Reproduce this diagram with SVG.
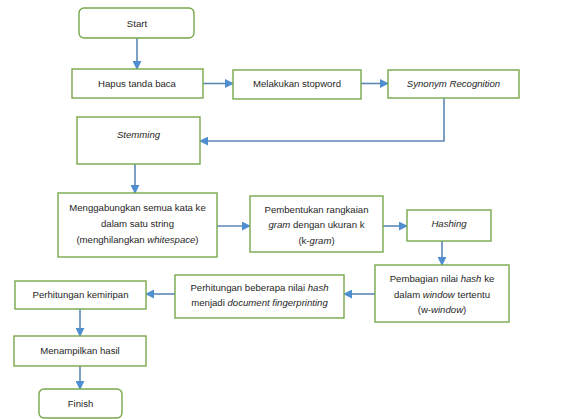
<svg xmlns="http://www.w3.org/2000/svg" width="566" height="419" viewBox="0 0 566 419">
<defs>
<marker id="ah" viewBox="0 0 10 10" refX="9" refY="5" markerWidth="5" markerHeight="5" orient="auto" markerUnits="userSpaceOnUse">
<path d="M0,0 L10,5 L0,10 Z" fill="#4f8fd0"/>
</marker>
<marker id="ah2" viewBox="0 0 10 10" refX="9" refY="5" markerWidth="9" markerHeight="9" orient="auto" markerUnits="userSpaceOnUse">
<path d="M0,0 L10,5 L0,10 Z" fill="#4f8fd0"/>
</marker>
</defs>
<style>
.box{fill:#ffffff;stroke:#77a84b;stroke-width:1.4}
.t{font-family:"Liberation Sans",Arial,sans-serif;font-size:9.6px;fill:#262626;text-anchor:middle}
.i{font-style:italic}
.c{fill:none;stroke:#5d88b6;stroke-width:1.6}
</style>
<rect width="566" height="419" fill="#ffffff"/>
<g id="connectors">
<path class="c" d="M137,38 V69" marker-end="url(#ah2)"/>
<path class="c" d="M203,83.5 H233" marker-end="url(#ah2)"/>
<path class="c" d="M361,83.5 H388" marker-end="url(#ah2)"/>
<path class="c" d="M444,98 V141 H200" marker-end="url(#ah2)"/>
<path class="c" d="M135,164 V193" marker-end="url(#ah2)"/>
<path class="c" d="M217,226 H250" marker-end="url(#ah2)"/>
<path class="c" d="M383,226 H407" marker-end="url(#ah2)"/>
<path class="c" d="M442,241 V265" marker-end="url(#ah2)"/>
<path class="c" d="M375,294 H344" marker-end="url(#ah2)"/>
<path class="c" d="M175,294 H146" marker-end="url(#ah2)"/>
<path class="c" d="M80,309 V336" marker-end="url(#ah2)"/>
<path class="c" d="M80,366 V389" marker-end="url(#ah2)"/>
</g>
<g id="start"><rect class="box" x="79" y="8" width="115" height="30" rx="5"/><text class="t" x="137" y="26.5">Start</text></g>
<g id="hapus"><rect class="box" x="72" y="69" width="131" height="29"/><text class="t" x="137" y="87">Hapus tanda baca</text></g>
<g id="stopword"><rect class="box" x="233" y="70" width="128" height="29"/><text class="t" x="297" y="87">Melakukan stopword</text></g>
<g id="synonym"><rect class="box" x="388" y="70" width="131" height="28"/><text class="t i" x="453.5" y="87">Synonym Recognition</text></g>
<g id="stemming"><rect class="box" x="77" y="117" width="123" height="47"/><text class="t i" x="138.5" y="138">Stemming</text></g>
<g id="gabung"><rect class="box" x="58" y="193" width="159" height="64"/>
<text class="t" x="137.5" y="211">Menggabungkan semua kata ke</text>
<text class="t" x="137.5" y="226.5">dalam satu string</text>
<text class="t" x="137.5" y="243">(menghilangkan <tspan class="i">whitespace</tspan>)</text></g>
<g id="kgram"><rect class="box" x="250" y="196" width="133" height="56"/>
<text class="t" x="316.5" y="213">Pembentukan rangkaian</text>
<text class="t" x="316.5" y="228"><tspan class="i">gram</tspan> dengan ukuran k</text>
<text class="t" x="316.5" y="243.5">(k-<tspan class="i">gram</tspan>)</text></g>
<g id="hashing"><rect class="box" x="407" y="210" width="84" height="31"/><text class="t i" x="449" y="226.5">Hashing</text></g>
<g id="window"><rect class="box" x="375" y="265" width="134" height="57"/>
<text class="t" x="442" y="282"><tspan>Pembagian nilai </tspan><tspan class="i">hash</tspan> ke</text>
<text class="t" x="442" y="297.5">dalam <tspan class="i">window</tspan> tertentu</text>
<text class="t" x="442" y="313">(w-<tspan class="i">window</tspan>)</text></g>
<g id="fingerprint"><rect class="box" x="175" y="275" width="169" height="43"/>
<text class="t" x="259.5" y="291">Perhitungan beberapa nilai <tspan class="i">hash</tspan></text>
<text class="t" x="259.5" y="306">menjadi <tspan class="i">document fingerprinting</tspan></text></g>
<g id="kemiripan"><rect class="box" x="15" y="281" width="131" height="28"/><text class="t" x="80.5" y="298">Perhitungan kemiripan</text></g>
<g id="tampil"><rect class="box" x="14" y="336" width="132" height="30"/><text class="t" x="80" y="353.5">Menampilkan hasil</text></g>
<g id="finish"><rect class="box" x="39" y="389" width="83" height="29" rx="5"/><text class="t" x="80.5" y="407">Finish</text></g>
</svg>
